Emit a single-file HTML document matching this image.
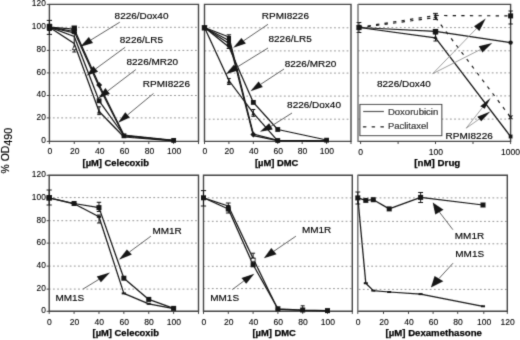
<!DOCTYPE html>
<html><head><meta charset="utf-8"><style>
html,body{margin:0;padding:0;background:#fff;}
body{width:520px;height:340px;overflow:hidden;font-family:"Liberation Sans", sans-serif;}
#w{filter:grayscale(1);width:520px;height:340px;}
svg{display:block;}
</style></head><body><div id="w">
<svg xmlns="http://www.w3.org/2000/svg" width="520" height="340" viewBox="0 0 520 340" font-family='"Liberation Sans", sans-serif'>
<defs><filter id="bl" x="0" y="0" width="520" height="340" filterUnits="userSpaceOnUse"><feConvolveMatrix order="3" kernelMatrix="1 6 1 6 36 6 1 6 1" divisor="64" edgeMode="duplicate"/></filter></defs>
<rect width="520" height="340" fill="#fff"/>
<g filter="url(#bl)">
<line x1="49.4" y1="117.9" x2="198.5" y2="117.9" stroke="#959595" stroke-width="1" stroke-dasharray="1.8 2.38" stroke-dashoffset="0.7"/>
<line x1="49.4" y1="95.5" x2="198.5" y2="95.5" stroke="#959595" stroke-width="1" stroke-dasharray="1.8 2.38" stroke-dashoffset="0.7"/>
<line x1="49.4" y1="72.9" x2="198.5" y2="72.9" stroke="#959595" stroke-width="1" stroke-dasharray="1.8 2.38" stroke-dashoffset="0.7"/>
<line x1="49.4" y1="50.4" x2="198.5" y2="50.4" stroke="#959595" stroke-width="1" stroke-dasharray="1.8 2.38" stroke-dashoffset="0.7"/>
<line x1="49.4" y1="27.3" x2="198.5" y2="27.3" stroke="#959595" stroke-width="1" stroke-dasharray="1.8 2.38" stroke-dashoffset="0.7"/>
<path d="M49.4 141.4 V4.4 H198.5 V141.4 Z" fill="none" stroke="#444" stroke-width="1.4"/>
<line x1="46.8" y1="141.4" x2="49.4" y2="141.4" stroke="#444" stroke-width="1"/>
<line x1="46.8" y1="117.9" x2="49.4" y2="117.9" stroke="#444" stroke-width="1"/>
<line x1="46.8" y1="95.5" x2="49.4" y2="95.5" stroke="#444" stroke-width="1"/>
<line x1="46.8" y1="72.9" x2="49.4" y2="72.9" stroke="#444" stroke-width="1"/>
<line x1="46.8" y1="50.4" x2="49.4" y2="50.4" stroke="#444" stroke-width="1"/>
<line x1="46.8" y1="27.3" x2="49.4" y2="27.3" stroke="#444" stroke-width="1"/>
<line x1="46.8" y1="4.4" x2="49.4" y2="4.4" stroke="#444" stroke-width="1"/>
<line x1="49.4" y1="141.4" x2="49.4" y2="144" stroke="#444" stroke-width="1"/>
<line x1="74.25" y1="141.4" x2="74.25" y2="144" stroke="#444" stroke-width="1"/>
<line x1="99.1" y1="141.4" x2="99.1" y2="144" stroke="#444" stroke-width="1"/>
<line x1="123.95" y1="141.4" x2="123.95" y2="144" stroke="#444" stroke-width="1"/>
<line x1="148.8" y1="141.4" x2="148.8" y2="144" stroke="#444" stroke-width="1"/>
<line x1="173.65" y1="141.4" x2="173.65" y2="144" stroke="#444" stroke-width="1"/>
<line x1="198.5" y1="141.4" x2="198.5" y2="144" stroke="#444" stroke-width="1"/>
<text transform="translate(45.8,143.35) scale(0.93,1.04)" font-size="9" text-anchor="end" fill="#000" stroke="#000" stroke-width="0.1">0</text>
<text transform="translate(45.8,119.85) scale(0.93,1.04)" font-size="9" text-anchor="end" fill="#000" stroke="#000" stroke-width="0.1">20</text>
<text transform="translate(45.8,97.45) scale(0.93,1.04)" font-size="9" text-anchor="end" fill="#000" stroke="#000" stroke-width="0.1">40</text>
<text transform="translate(45.8,74.85) scale(0.93,1.04)" font-size="9" text-anchor="end" fill="#000" stroke="#000" stroke-width="0.1">60</text>
<text transform="translate(45.8,52.35) scale(0.93,1.04)" font-size="9" text-anchor="end" fill="#000" stroke="#000" stroke-width="0.1">80</text>
<text transform="translate(45.8,29.25) scale(0.93,1.04)" font-size="9" text-anchor="end" fill="#000" stroke="#000" stroke-width="0.1">100</text>
<text transform="translate(45.8,6.35) scale(0.93,1.04)" font-size="9" text-anchor="end" fill="#000" stroke="#000" stroke-width="0.1">120</text>
<text transform="translate(50,154.1) scale(0.95,1.03)" font-size="9" text-anchor="middle" fill="#000" stroke="#000" stroke-width="0.1">0</text>
<text transform="translate(74.85,154.1) scale(0.95,1.03)" font-size="9" text-anchor="middle" fill="#000" stroke="#000" stroke-width="0.1">20</text>
<text transform="translate(99.7,154.1) scale(0.95,1.03)" font-size="9" text-anchor="middle" fill="#000" stroke="#000" stroke-width="0.1">40</text>
<text transform="translate(124.55,154.1) scale(0.95,1.03)" font-size="9" text-anchor="middle" fill="#000" stroke="#000" stroke-width="0.1">60</text>
<text transform="translate(149.4,154.1) scale(0.95,1.03)" font-size="9" text-anchor="middle" fill="#000" stroke="#000" stroke-width="0.1">80</text>
<text transform="translate(174.25,154.1) scale(0.95,1.03)" font-size="9" text-anchor="middle" fill="#000" stroke="#000" stroke-width="0.1">100</text>
<text x="115.7" y="165.6" font-size="9.4" text-anchor="middle" font-weight="bold" fill="#000" stroke="#000" stroke-width="0.25">[µM] Celecoxib</text>
<polyline points="49.4,27.2 74.25,33" fill="none" stroke="#151515" stroke-width="1.25" stroke-linejoin="round"/>
<polyline points="49.4,27.2 74.25,29.2 99.1,84.8 123.95,135 173.65,140.4" fill="none" stroke="#151515" stroke-width="1.25" stroke-linejoin="round"/>
<polyline points="49.4,27.2 74.25,31.5 99.1,86.8 123.95,136 173.65,140.6" fill="none" stroke="#151515" stroke-width="1.25" stroke-linejoin="round"/>
<polyline points="49.4,27.2 74.25,36.5 99.1,100.8 123.95,135.5 173.65,140.5" fill="none" stroke="#151515" stroke-width="1.25" stroke-linejoin="round"/>
<polyline points="49.4,27.2 74.25,43.5 99.1,111.5 123.95,137 173.65,140.9" fill="none" stroke="#151515" stroke-width="1.25" stroke-linejoin="round"/>
<path d="M49.4 20.4 V34.4 M46.8 20.4 H52 M46.8 34.4 H52" stroke="#151515" stroke-width="1" fill="none"/>
<rect x="46.8" y="23.8" width="5.4" height="7.1" rx="0.8" fill="#151515"/>
<rect x="71.55" y="25.5" width="5.4" height="5.4" fill="#151515"/>
<rect x="71.65" y="28.9" width="5.2" height="5.2" fill="#151515"/>
<path d="M74.25 33 V52 M72.25 33 H76.25 M72.25 52 H76.25" stroke="#151515" stroke-width="1" fill="none"/>
<polygon points="74.25,45.42 76.12,49.67 72.38,49.67" fill="#fff" stroke="#151515" stroke-width="0.9"/>
<polygon points="99.1,82 102.1,85 99.1,88 96.1,85" fill="#151515"/>
<rect x="96.7" y="98.4" width="4.8" height="4.8" fill="#151515"/>
<path d="M99.1 106.8 V114.6 M97.3 106.8 H100.9 M97.3 114.6 H100.9" stroke="#151515" stroke-width="1" fill="none"/>
<polygon points="99.1,109.32 101.19,113.5 97.01,113.5" fill="#151515"/>
<rect x="121.55" y="133.4" width="4.8" height="4.8" fill="#151515"/>
<rect x="171.25" y="138" width="4.8" height="4.8" fill="#151515"/>
<line x1="90.9" y1="40" x2="119.8" y2="22.2" stroke="#444" stroke-width="0.85"/>
<polygon points="80.44,46.82 88.8,37 93,43" fill="#151515"/>
<line x1="95.7" y1="68.85" x2="125.1" y2="47.3" stroke="#444" stroke-width="0.85"/>
<polygon points="86.8,75.5 93.3,65.9 98.1,71.8" fill="#151515"/>
<line x1="107.65" y1="91.05" x2="135.8" y2="69.6" stroke="#444" stroke-width="0.85"/>
<polygon points="98.32,98.32 105.4,88.1 109.9,94" fill="#151515"/>
<line x1="127.6" y1="114.9" x2="153.5" y2="93.5" stroke="#444" stroke-width="0.85"/>
<polygon points="118.04,122.75 125.3,112.2 129.9,117.6" fill="#151515"/>
<text transform="translate(114.6,18.5) scale(1,0.94)" font-size="10" fill="#000" stroke="#000" stroke-width="0.15">8226/Dox40</text>
<text transform="translate(119.8,42.9) scale(1,0.94)" font-size="10" fill="#000" stroke="#000" stroke-width="0.15">8226/LR5</text>
<text transform="translate(126.5,65.4) scale(1,0.94)" font-size="10" fill="#000" stroke="#000" stroke-width="0.15">8226/MR20</text>
<text transform="translate(142.8,87.4) scale(1,0.94)" font-size="10" fill="#000" stroke="#000" stroke-width="0.15">RPMI8226</text>
<line x1="204.5" y1="119.2" x2="351" y2="119.2" stroke="#959595" stroke-width="1" stroke-dasharray="1.8 2.38" stroke-dashoffset="0"/>
<line x1="204.5" y1="96.1" x2="351" y2="96.1" stroke="#959595" stroke-width="1" stroke-dasharray="1.8 2.38" stroke-dashoffset="0"/>
<line x1="204.5" y1="73.1" x2="351" y2="73.1" stroke="#959595" stroke-width="1" stroke-dasharray="1.8 2.38" stroke-dashoffset="0"/>
<line x1="204.5" y1="50.9" x2="351" y2="50.9" stroke="#959595" stroke-width="1" stroke-dasharray="1.8 2.38" stroke-dashoffset="0"/>
<line x1="204.5" y1="27.8" x2="351" y2="27.8" stroke="#959595" stroke-width="1" stroke-dasharray="1.8 2.38" stroke-dashoffset="0"/>
<path d="M204.5 141.4 V4.4 H351 V141.4 Z" fill="none" stroke="#444" stroke-width="1.4"/>
<line x1="204.5" y1="141.4" x2="204.5" y2="144" stroke="#444" stroke-width="1"/>
<line x1="228.92" y1="141.4" x2="228.92" y2="144" stroke="#444" stroke-width="1"/>
<line x1="253.33" y1="141.4" x2="253.33" y2="144" stroke="#444" stroke-width="1"/>
<line x1="277.75" y1="141.4" x2="277.75" y2="144" stroke="#444" stroke-width="1"/>
<line x1="302.16" y1="141.4" x2="302.16" y2="144" stroke="#444" stroke-width="1"/>
<line x1="326.58" y1="141.4" x2="326.58" y2="144" stroke="#444" stroke-width="1"/>
<line x1="351" y1="141.4" x2="351" y2="144" stroke="#444" stroke-width="1"/>
<text transform="translate(204.9,154.1) scale(0.95,1.03)" font-size="9" text-anchor="middle" fill="#000" stroke="#000" stroke-width="0.1">0</text>
<text transform="translate(229.32,154.1) scale(0.95,1.03)" font-size="9" text-anchor="middle" fill="#000" stroke="#000" stroke-width="0.1">20</text>
<text transform="translate(253.73,154.1) scale(0.95,1.03)" font-size="9" text-anchor="middle" fill="#000" stroke="#000" stroke-width="0.1">40</text>
<text transform="translate(278.15,154.1) scale(0.95,1.03)" font-size="9" text-anchor="middle" fill="#000" stroke="#000" stroke-width="0.1">60</text>
<text transform="translate(302.56,154.1) scale(0.95,1.03)" font-size="9" text-anchor="middle" fill="#000" stroke="#000" stroke-width="0.1">80</text>
<text transform="translate(326.98,154.1) scale(0.95,1.03)" font-size="9" text-anchor="middle" fill="#000" stroke="#000" stroke-width="0.1">100</text>
<text x="276.7" y="165.6" font-size="9.4" text-anchor="middle" font-weight="bold" fill="#000" stroke="#000" stroke-width="0.25">[µM] DMC</text>
<polyline points="204.5,27.5 228.92,43.5" fill="none" stroke="#151515" stroke-width="1.25" stroke-linejoin="round"/>
<polyline points="204.5,27.5 228.92,47 253.33,102.4 277.75,129.5 326.58,140" fill="none" stroke="#151515" stroke-width="1.25" stroke-linejoin="round"/>
<polyline points="204.5,27.5 228.92,80.5 253.33,113.2 277.75,140.8 326.58,141" fill="none" stroke="#151515" stroke-width="1.25" stroke-linejoin="round"/>
<polyline points="204.5,27.5 228.92,37 253.33,134 277.75,140.4 326.58,140.9" fill="none" stroke="#151515" stroke-width="1.25" stroke-linejoin="round"/>
<polyline points="204.5,27.5 228.92,40.5 253.33,135.6 277.75,140.6 326.58,141" fill="none" stroke="#151515" stroke-width="1.25" stroke-linejoin="round"/>
<rect x="201.8" y="25.1" width="5.4" height="5.4" fill="#151515"/>
<path d="M228.92 34.8 V48.5 M226.72 34.8 H231.12 M226.72 48.5 H231.12" stroke="#151515" stroke-width="1" fill="none"/>
<rect x="226.82" y="35.9" width="4.2" height="4.2" fill="#151515"/>
<rect x="226.82" y="39.4" width="4.2" height="4.2" fill="#151515"/>
<rect x="226.92" y="43.5" width="4" height="4" fill="#151515"/>
<polygon points="228.92,79.1 231.12,83.5 226.72,83.5" fill="#151515"/>
<path d="M228.92 78.5 V84.5 M227.12 78.5 H230.72 M227.12 84.5 H230.72" stroke="#151515" stroke-width="1" fill="none"/>
<rect x="250.93" y="100" width="4.8" height="4.8" fill="#151515"/>
<path d="M253.33 109.5 V116.3 M251.33 109.5 H255.33 M251.33 116.3 H255.33" stroke="#151515" stroke-width="1" fill="none"/>
<polygon points="253.33,111.24 255.31,115.2 251.35,115.2" fill="#151515"/>
<polygon points="253.33,131.6 256.33,134.6 253.33,137.6 250.33,134.6" fill="#151515"/>
<rect x="275.35" y="127.1" width="4.8" height="4.8" fill="#151515"/>
<rect x="275.35" y="138.1" width="4.8" height="4.8" fill="#151515"/>
<rect x="324.18" y="137.8" width="4.8" height="4.8" fill="#151515"/>
<line x1="243.65" y1="40.75" x2="268" y2="24.3" stroke="#444" stroke-width="0.85"/>
<polygon points="233.26,47.85 241.4,38 245.9,43.5" fill="#151515"/>
<line x1="236.4" y1="67.55" x2="268" y2="48" stroke="#444" stroke-width="0.85"/>
<polygon points="225.73,74.3 233.9,64.8 238.9,70.3" fill="#151515"/>
<line x1="260.7" y1="84.3" x2="284" y2="69" stroke="#444" stroke-width="0.85"/>
<polygon points="250.46,91.35 258.6,81.5 262.8,87.1" fill="#151515"/>
<line x1="270.95" y1="126.35" x2="292" y2="113" stroke="#444" stroke-width="0.85"/>
<polygon points="259.96,131.87 269.2,123.3 272.7,129.4" fill="#151515"/>
<text transform="translate(261.8,18.5) scale(1,0.94)" font-size="10" fill="#000" stroke="#000" stroke-width="0.15">RPMI8226</text>
<text transform="translate(268.5,42.3) scale(1,0.94)" font-size="10" fill="#000" stroke="#000" stroke-width="0.15">8226/LR5</text>
<text transform="translate(284.7,66.6) scale(1,0.94)" font-size="10" fill="#000" stroke="#000" stroke-width="0.15">8226/MR20</text>
<text transform="translate(287.1,108.2) scale(1,0.94)" font-size="10" fill="#000" stroke="#000" stroke-width="0.15">8226/Dox40</text>
<line x1="358" y1="119.1" x2="510.6" y2="119.1" stroke="#959595" stroke-width="1" stroke-dasharray="1.8 2.38" stroke-dashoffset="0"/>
<line x1="358" y1="95.9" x2="510.6" y2="95.9" stroke="#959595" stroke-width="1" stroke-dasharray="1.8 2.38" stroke-dashoffset="0"/>
<line x1="358" y1="72.9" x2="510.6" y2="72.9" stroke="#959595" stroke-width="1" stroke-dasharray="1.8 2.38" stroke-dashoffset="0"/>
<line x1="358" y1="50.8" x2="510.6" y2="50.8" stroke="#959595" stroke-width="1" stroke-dasharray="1.8 2.38" stroke-dashoffset="0"/>
<line x1="358" y1="27.6" x2="510.6" y2="27.6" stroke="#959595" stroke-width="1" stroke-dasharray="1.8 2.38" stroke-dashoffset="0"/>
<path d="M358 4.4 H510.6 V141.4 H358" fill="none" stroke="#444" stroke-width="1.4"/>
<line x1="358" y1="3.9" x2="358" y2="141.9" stroke="#777" stroke-width="1.5"/>
<line x1="360.6" y1="141.4" x2="360.6" y2="144" stroke="#444" stroke-width="1"/>
<line x1="398.1" y1="141.4" x2="398.1" y2="144" stroke="#444" stroke-width="1"/>
<line x1="435.5" y1="141.4" x2="435.5" y2="144" stroke="#444" stroke-width="1"/>
<line x1="473" y1="141.4" x2="473" y2="144" stroke="#444" stroke-width="1"/>
<line x1="510.6" y1="141.4" x2="510.6" y2="144" stroke="#444" stroke-width="1"/>
<text transform="translate(360.6,155) scale(0.95,1.03)" font-size="9" text-anchor="middle" fill="#000" stroke="#000" stroke-width="0.1">0</text>
<text transform="translate(436,155) scale(0.95,1.03)" font-size="9" text-anchor="middle" fill="#000" stroke="#000" stroke-width="0.1">100</text>
<text transform="translate(510.6,155) scale(0.95,1.03)" font-size="9" text-anchor="middle" fill="#000" stroke="#000" stroke-width="0.1">1000</text>
<text x="437.3" y="165.6" font-size="9.75" text-anchor="middle" font-weight="bold" fill="#000" stroke="#000" stroke-width="0.25">[nM] Drug</text>
<polyline points="359,27.5 435.5,31.3 510.6,42.6" fill="none" stroke="#151515" stroke-width="1.25" stroke-linejoin="round"/>
<polyline points="359,27.5 435.5,37.8 510.6,136.5" fill="none" stroke="#151515" stroke-width="1.25" stroke-linejoin="round"/>
<polyline points="359,27.3 435.5,15.5 510.6,15.9" fill="none" stroke="#151515" stroke-width="1.15" stroke-linejoin="round" stroke-dasharray="3.3 5.3"/>
<polyline points="359,27.7 435.5,17.6 510.6,117.3" fill="none" stroke="#151515" stroke-width="1.15" stroke-linejoin="round" stroke-dasharray="3.3 5.3"/>
<path d="M359 22.5 V32.5 M356.6 22.5 H361.4 M356.6 32.5 H361.4" stroke="#151515" stroke-width="1" fill="none"/>
<rect x="356.4" y="24.9" width="5.2" height="5.2" fill="#151515"/>
<path d="M435.5 13.4 V19.4 M433.1 13.4 H437.9 M433.1 19.4 H437.9" stroke="#151515" stroke-width="1" fill="none"/>
<path d="M433.8 14.7 L437.2 18.1 M437.2 14.7 L433.8 18.1" stroke="#151515" stroke-width="1.1"/>
<rect x="432.8" y="28.9" width="5.4" height="5.4" fill="#151515"/>
<path d="M435.5 34 V41 M433.5 34 H437.5 M433.5 41 H437.5" stroke="#151515" stroke-width="1" fill="none"/>
<polygon points="435.5,34.92 437.59,39.1 433.41,39.1" fill="#151515"/>
<path d="M510.6 11 V24 M508.4 11 H512.8 M508.4 24 H512.8" stroke="#151515" stroke-width="1" fill="none"/>
<rect x="508.1" y="13.4" width="5" height="5" fill="#151515"/>
<circle cx="510.6" cy="42.6" r="2.2" fill="#151515"/>
<path d="M508.7 115.4 L512.5 119.2 M512.5 115.4 L508.7 119.2" stroke="#151515" stroke-width="1.1"/>
<rect x="508.7" y="134.6" width="3.8" height="3.8" fill="#151515"/>
<rect x="359.9" y="104.5" width="81.9" height="31.1" fill="#fff" stroke="#444" stroke-width="1.1"/>
<line x1="363.2" y1="111.5" x2="383.9" y2="111.5" stroke="#151515" stroke-width="1.2"/>
<line x1="362.9" y1="126.8" x2="384.2" y2="126.8" stroke="#151515" stroke-width="1.5" stroke-dasharray="3.4 5.4"/>
<text transform="translate(387.9,114.5) scale(1,0.94)" font-size="9.55" fill="#000" stroke="#000" stroke-width="0.15">Doxorubicin</text>
<text transform="translate(387.9,128.6) scale(1,0.94)" font-size="9.45" fill="#000" stroke="#000" stroke-width="0.15">Paclitaxel</text>
<line x1="432.7" y1="73.7" x2="477" y2="28" stroke="#888" stroke-width="0.8"/>
<line x1="432.7" y1="73.7" x2="480.5" y2="49.5" stroke="#888" stroke-width="0.8"/>
<polygon points="485.7,18.58 474.1,26.2 479.4,30.9" fill="#151515"/>
<polygon points="492.22,43.08 478.8,46.2 482.4,52.6" fill="#151515"/>
<text transform="translate(377,86.9) scale(1,0.94)" font-size="10" fill="#000" stroke="#000" stroke-width="0.15">8226/Dox40</text>
<line x1="466.2" y1="128.2" x2="482.5" y2="107.5" stroke="#888" stroke-width="0.8"/>
<line x1="466.2" y1="128.2" x2="479.3" y2="119" stroke="#888" stroke-width="0.8"/>
<polygon points="490.57,97.95 480.3,106.2 484.7,108.8" fill="#151515"/>
<polygon points="490.34,111.46 477.3,116.7 481.2,121.2" fill="#151515"/>
<text transform="translate(445.6,138.9) scale(1,0.94)" font-size="10" fill="#000" stroke="#000" stroke-width="0.15">RPMI8226</text>
<line x1="49.2" y1="289.1" x2="198.5" y2="289.1" stroke="#959595" stroke-width="1" stroke-dasharray="1.8 2.38" stroke-dashoffset="0.4"/>
<line x1="49.2" y1="266.1" x2="198.5" y2="266.1" stroke="#959595" stroke-width="1" stroke-dasharray="1.8 2.38" stroke-dashoffset="0.4"/>
<line x1="49.2" y1="243.1" x2="198.5" y2="243.1" stroke="#959595" stroke-width="1" stroke-dasharray="1.8 2.38" stroke-dashoffset="0.4"/>
<line x1="49.2" y1="220.7" x2="198.5" y2="220.7" stroke="#959595" stroke-width="1" stroke-dasharray="1.8 2.38" stroke-dashoffset="0.4"/>
<line x1="49.2" y1="197.6" x2="198.5" y2="197.6" stroke="#959595" stroke-width="1" stroke-dasharray="1.8 2.38" stroke-dashoffset="0.4"/>
<path d="M49.2 311.3 V175.3 H198.5 V311.3 Z" fill="none" stroke="#444" stroke-width="1.4"/>
<line x1="46.6" y1="311.3" x2="49.2" y2="311.3" stroke="#444" stroke-width="1"/>
<line x1="46.6" y1="289.1" x2="49.2" y2="289.1" stroke="#444" stroke-width="1"/>
<line x1="46.6" y1="266.1" x2="49.2" y2="266.1" stroke="#444" stroke-width="1"/>
<line x1="46.6" y1="243.1" x2="49.2" y2="243.1" stroke="#444" stroke-width="1"/>
<line x1="46.6" y1="220.7" x2="49.2" y2="220.7" stroke="#444" stroke-width="1"/>
<line x1="46.6" y1="197.6" x2="49.2" y2="197.6" stroke="#444" stroke-width="1"/>
<line x1="46.6" y1="175.3" x2="49.2" y2="175.3" stroke="#444" stroke-width="1"/>
<line x1="49.2" y1="311.3" x2="49.2" y2="313.9" stroke="#444" stroke-width="1"/>
<line x1="74.08" y1="311.3" x2="74.08" y2="313.9" stroke="#444" stroke-width="1"/>
<line x1="98.97" y1="311.3" x2="98.97" y2="313.9" stroke="#444" stroke-width="1"/>
<line x1="123.85" y1="311.3" x2="123.85" y2="313.9" stroke="#444" stroke-width="1"/>
<line x1="148.74" y1="311.3" x2="148.74" y2="313.9" stroke="#444" stroke-width="1"/>
<line x1="173.62" y1="311.3" x2="173.62" y2="313.9" stroke="#444" stroke-width="1"/>
<line x1="198.5" y1="311.3" x2="198.5" y2="313.9" stroke="#444" stroke-width="1"/>
<text transform="translate(45.8,313.25) scale(0.93,1.04)" font-size="9" text-anchor="end" fill="#000" stroke="#000" stroke-width="0.1">0</text>
<text transform="translate(45.8,291.05) scale(0.93,1.04)" font-size="9" text-anchor="end" fill="#000" stroke="#000" stroke-width="0.1">20</text>
<text transform="translate(45.8,268.05) scale(0.93,1.04)" font-size="9" text-anchor="end" fill="#000" stroke="#000" stroke-width="0.1">40</text>
<text transform="translate(45.8,245.05) scale(0.93,1.04)" font-size="9" text-anchor="end" fill="#000" stroke="#000" stroke-width="0.1">60</text>
<text transform="translate(45.8,222.65) scale(0.93,1.04)" font-size="9" text-anchor="end" fill="#000" stroke="#000" stroke-width="0.1">80</text>
<text transform="translate(45.8,199.55) scale(0.93,1.04)" font-size="9" text-anchor="end" fill="#000" stroke="#000" stroke-width="0.1">100</text>
<text transform="translate(45.8,177.25) scale(0.93,1.04)" font-size="9" text-anchor="end" fill="#000" stroke="#000" stroke-width="0.1">120</text>
<text transform="translate(49.5,325.4) scale(0.95,1.03)" font-size="9" text-anchor="middle" fill="#000" stroke="#000" stroke-width="0.1">0</text>
<text transform="translate(74.38,325.4) scale(0.95,1.03)" font-size="9" text-anchor="middle" fill="#000" stroke="#000" stroke-width="0.1">20</text>
<text transform="translate(99.27,325.4) scale(0.95,1.03)" font-size="9" text-anchor="middle" fill="#000" stroke="#000" stroke-width="0.1">40</text>
<text transform="translate(124.15,325.4) scale(0.95,1.03)" font-size="9" text-anchor="middle" fill="#000" stroke="#000" stroke-width="0.1">60</text>
<text transform="translate(149.04,325.4) scale(0.95,1.03)" font-size="9" text-anchor="middle" fill="#000" stroke="#000" stroke-width="0.1">80</text>
<text transform="translate(173.92,325.4) scale(0.95,1.03)" font-size="9" text-anchor="middle" fill="#000" stroke="#000" stroke-width="0.1">100</text>
<text x="125.7" y="335.9" font-size="9.4" text-anchor="middle" font-weight="bold" fill="#000" stroke="#000" stroke-width="0.25">[µM] Celecoxib</text>
<polyline points="49.2,197.8 74.08,203.5 98.97,207.6 123.85,278.2 148.74,299.4 173.62,308.4" fill="none" stroke="#151515" stroke-width="1.25" stroke-linejoin="round"/>
<polyline points="49.2,197.8 74.08,203.8 98.97,216.8 123.85,293.4 148.74,303.8 173.62,308.6" fill="none" stroke="#151515" stroke-width="1.25" stroke-linejoin="round"/>
<path d="M49.2 190 V205 M46.6 190 H51.8 M46.6 205 H51.8" stroke="#151515" stroke-width="1" fill="none"/>
<path d="M98.97 202.3 V211.5 M96.77 202.3 H101.17 M96.77 211.5 H101.17" stroke="#151515" stroke-width="1" fill="none"/>
<path d="M98.97 215 V223 M96.97 215 H100.97 M96.97 223 H100.97" stroke="#151515" stroke-width="1" fill="none"/>
<rect x="46.7" y="195.3" width="5" height="5" fill="#151515"/>
<rect x="71.58" y="201" width="5" height="5" fill="#151515"/>
<rect x="96.47" y="205.1" width="5" height="5" fill="#151515"/>
<rect x="121.35" y="275.7" width="5" height="5" fill="#151515"/>
<rect x="146.24" y="296.9" width="5" height="5" fill="#151515"/>
<rect x="171.12" y="305.9" width="5" height="5" fill="#151515"/>
<rect x="47.1" y="196.8" width="4.2" height="2" fill="#151515"/>
<rect x="71.98" y="202.8" width="4.2" height="2" fill="#151515"/>
<rect x="96.87" y="215.8" width="4.2" height="2" fill="#151515"/>
<rect x="121.75" y="292.4" width="4.2" height="2" fill="#151515"/>
<rect x="146.64" y="302.8" width="4.2" height="2" fill="#151515"/>
<rect x="171.52" y="307.6" width="4.2" height="2" fill="#151515"/>
<rect x="46.5" y="195.1" width="5.4" height="5.4" fill="#151515"/>
<line x1="129.4" y1="252" x2="150.9" y2="236.2" stroke="#444" stroke-width="0.85"/>
<polygon points="118.89,259.69 126.9,249.4 131.9,254.6" fill="#151515"/>
<line x1="98.85" y1="279.4" x2="83.1" y2="289" stroke="#444" stroke-width="0.85"/>
<polygon points="109.98,272.51 96.8,276.6 100.9,282.2" fill="#151515"/>
<text transform="translate(152.4,233.5) scale(1,0.94)" font-size="10" fill="#000" stroke="#000" stroke-width="0.15">MM1R</text>
<text transform="translate(55.4,301.2) scale(1,0.94)" font-size="10" fill="#000" stroke="#000" stroke-width="0.15">MM1S</text>
<line x1="203.5" y1="288.6" x2="352.3" y2="288.6" stroke="#959595" stroke-width="1" stroke-dasharray="1.8 2.38" stroke-dashoffset="0"/>
<line x1="203.5" y1="266.3" x2="352.3" y2="266.3" stroke="#959595" stroke-width="1" stroke-dasharray="1.8 2.38" stroke-dashoffset="0"/>
<line x1="203.5" y1="243.2" x2="352.3" y2="243.2" stroke="#959595" stroke-width="1" stroke-dasharray="1.8 2.38" stroke-dashoffset="0"/>
<line x1="203.5" y1="221.3" x2="352.3" y2="221.3" stroke="#959595" stroke-width="1" stroke-dasharray="1.8 2.38" stroke-dashoffset="0"/>
<line x1="203.5" y1="197.9" x2="352.3" y2="197.9" stroke="#959595" stroke-width="1" stroke-dasharray="1.8 2.38" stroke-dashoffset="0"/>
<path d="M203.5 311.3 V175.3 H352.3 V311.3 Z" fill="none" stroke="#444" stroke-width="1.4"/>
<line x1="203.5" y1="311.3" x2="203.5" y2="313.9" stroke="#444" stroke-width="1"/>
<line x1="228.3" y1="311.3" x2="228.3" y2="313.9" stroke="#444" stroke-width="1"/>
<line x1="253.1" y1="311.3" x2="253.1" y2="313.9" stroke="#444" stroke-width="1"/>
<line x1="277.9" y1="311.3" x2="277.9" y2="313.9" stroke="#444" stroke-width="1"/>
<line x1="302.7" y1="311.3" x2="302.7" y2="313.9" stroke="#444" stroke-width="1"/>
<line x1="327.5" y1="311.3" x2="327.5" y2="313.9" stroke="#444" stroke-width="1"/>
<line x1="352.3" y1="311.3" x2="352.3" y2="313.9" stroke="#444" stroke-width="1"/>
<text transform="translate(203.9,325.4) scale(0.95,1.03)" font-size="9" text-anchor="middle" fill="#000" stroke="#000" stroke-width="0.1">0</text>
<text transform="translate(228.7,325.4) scale(0.95,1.03)" font-size="9" text-anchor="middle" fill="#000" stroke="#000" stroke-width="0.1">20</text>
<text transform="translate(253.5,325.4) scale(0.95,1.03)" font-size="9" text-anchor="middle" fill="#000" stroke="#000" stroke-width="0.1">40</text>
<text transform="translate(278.3,325.4) scale(0.95,1.03)" font-size="9" text-anchor="middle" fill="#000" stroke="#000" stroke-width="0.1">60</text>
<text transform="translate(303.1,325.4) scale(0.95,1.03)" font-size="9" text-anchor="middle" fill="#000" stroke="#000" stroke-width="0.1">80</text>
<text transform="translate(327.9,325.4) scale(0.95,1.03)" font-size="9" text-anchor="middle" fill="#000" stroke="#000" stroke-width="0.1">100</text>
<text x="274.2" y="335.9" font-size="9.4" text-anchor="middle" font-weight="bold" fill="#000" stroke="#000" stroke-width="0.25">[µM] DMC</text>
<polyline points="203.5,197.8 228.3,209 253.1,264.8 277.9,308.8 302.7,310 327.5,310.6" fill="none" stroke="#151515" stroke-width="1.25" stroke-linejoin="round"/>
<polyline points="203.5,197.8 228.3,206 253.1,258.6 277.9,309.4 302.7,310.4 327.5,310.8" fill="none" stroke="#151515" stroke-width="1.25" stroke-linejoin="round"/>
<path d="M203.5 190.6 V206 M200.9 190.6 H206.1 M200.9 206 H206.1" stroke="#151515" stroke-width="1" fill="none"/>
<path d="M228.3 203 V213 M225.9 203 H230.7 M225.9 213 H230.7" stroke="#151515" stroke-width="1" fill="none"/>
<path d="M253.1 253.2 V262 M251.1 253.2 H255.1 M251.1 262 H255.1" stroke="#151515" stroke-width="1" fill="none"/>
<path d="M302.7 305.8 V311 M300.7 305.8 H304.7 M300.7 311 H304.7" stroke="#151515" stroke-width="1" fill="none"/>
<rect x="201" y="195.3" width="5" height="5" fill="#151515"/>
<rect x="225.8" y="206.5" width="5" height="5" fill="#151515"/>
<rect x="250.6" y="262.3" width="5" height="5" fill="#151515"/>
<rect x="275.4" y="306.3" width="5" height="5" fill="#151515"/>
<rect x="300.2" y="307.5" width="5" height="5" fill="#151515"/>
<rect x="325" y="308.1" width="5" height="5" fill="#151515"/>
<rect x="201.4" y="196.8" width="4.2" height="2" fill="#151515"/>
<rect x="226.2" y="205" width="4.2" height="2" fill="#151515"/>
<rect x="251" y="257.6" width="4.2" height="2" fill="#151515"/>
<rect x="275.8" y="308.4" width="4.2" height="2" fill="#151515"/>
<rect x="300.6" y="309.4" width="4.2" height="2" fill="#151515"/>
<rect x="325.4" y="309.8" width="4.2" height="2" fill="#151515"/>
<rect x="251.1" y="258.3" width="4" height="3" fill="#fff" stroke="#151515" stroke-width="0.9"/>
<line x1="273.9" y1="251.2" x2="295.9" y2="236.2" stroke="#444" stroke-width="0.85"/>
<polygon points="263.87,258.26 271.3,248.1 276.5,254.3" fill="#151515"/>
<line x1="243.85" y1="280.95" x2="232.3" y2="289.6" stroke="#444" stroke-width="0.85"/>
<polygon points="254.34,273.75 241.5,278.1 246.2,283.8" fill="#151515"/>
<text transform="translate(301.9,232.7) scale(1,0.94)" font-size="10" fill="#000" stroke="#000" stroke-width="0.15">MM1R</text>
<text transform="translate(210.2,301.3) scale(1,0.94)" font-size="10" fill="#000" stroke="#000" stroke-width="0.15">MM1S</text>
<line x1="357.8" y1="289.4" x2="507.3" y2="289.4" stroke="#959595" stroke-width="1" stroke-dasharray="1.8 2.38" stroke-dashoffset="-0.87"/>
<line x1="357.8" y1="266.2" x2="507.3" y2="266.2" stroke="#959595" stroke-width="1" stroke-dasharray="1.8 2.38" stroke-dashoffset="-0.87"/>
<line x1="357.8" y1="243.8" x2="507.3" y2="243.8" stroke="#959595" stroke-width="1" stroke-dasharray="1.8 2.38" stroke-dashoffset="-0.87"/>
<line x1="357.8" y1="221.4" x2="507.3" y2="221.4" stroke="#959595" stroke-width="1" stroke-dasharray="1.8 2.38" stroke-dashoffset="-0.87"/>
<line x1="357.8" y1="197.9" x2="507.3" y2="197.9" stroke="#959595" stroke-width="1" stroke-dasharray="1.8 2.38" stroke-dashoffset="-0.87"/>
<path d="M357.8 175.3 H507.3 V311.3 H357.8" fill="none" stroke="#444" stroke-width="1.4"/>
<line x1="357.8" y1="174.8" x2="357.8" y2="311.8" stroke="#777" stroke-width="1.5"/>
<line x1="357.8" y1="311.3" x2="357.8" y2="313.9" stroke="#444" stroke-width="1"/>
<line x1="383.5" y1="311.3" x2="383.5" y2="313.9" stroke="#444" stroke-width="1"/>
<line x1="408.5" y1="311.3" x2="408.5" y2="313.9" stroke="#444" stroke-width="1"/>
<line x1="433.1" y1="311.3" x2="433.1" y2="313.9" stroke="#444" stroke-width="1"/>
<line x1="457.7" y1="311.3" x2="457.7" y2="313.9" stroke="#444" stroke-width="1"/>
<line x1="483.8" y1="311.3" x2="483.8" y2="313.9" stroke="#444" stroke-width="1"/>
<line x1="507.3" y1="311.3" x2="507.3" y2="313.9" stroke="#444" stroke-width="1"/>
<text transform="translate(358.2,325.4) scale(0.95,1.03)" font-size="9" text-anchor="middle" fill="#000" stroke="#000" stroke-width="0.1">0</text>
<text transform="translate(383.9,325.4) scale(0.95,1.03)" font-size="9" text-anchor="middle" fill="#000" stroke="#000" stroke-width="0.1">20</text>
<text transform="translate(408.9,325.4) scale(0.95,1.03)" font-size="9" text-anchor="middle" fill="#000" stroke="#000" stroke-width="0.1">40</text>
<text transform="translate(433.5,325.4) scale(0.95,1.03)" font-size="9" text-anchor="middle" fill="#000" stroke="#000" stroke-width="0.1">60</text>
<text transform="translate(458.1,325.4) scale(0.95,1.03)" font-size="9" text-anchor="middle" fill="#000" stroke="#000" stroke-width="0.1">80</text>
<text transform="translate(484.2,325.4) scale(0.95,1.03)" font-size="9" text-anchor="middle" fill="#000" stroke="#000" stroke-width="0.1">100</text>
<text transform="translate(507.7,325.4) scale(0.95,1.03)" font-size="9" text-anchor="middle" fill="#000" stroke="#000" stroke-width="0.1">120</text>
<text x="433.7" y="335.9" font-size="9.62" text-anchor="middle" font-weight="bold" fill="#000" stroke="#000" stroke-width="0.25">[µM] Dexamethasone</text>
<polyline points="357.8,197.9 365.8,200.4 373.3,199.7 389.2,208.9 420.6,197.4 483,205" fill="none" stroke="#151515" stroke-width="1.25" stroke-linejoin="round"/>
<polyline points="357.8,197.9 365.8,283.2 373.3,290.6 389.2,292 420.6,294.1 483,306.3" fill="none" stroke="#151515" stroke-width="1.25" stroke-linejoin="round"/>
<path d="M357.8 192 V204 M355.4 192 H360.2 M355.4 204 H360.2" stroke="#151515" stroke-width="1" fill="none"/>
<path d="M420.6 192.5 V202.5 M418.2 192.5 H423 M418.2 202.5 H423" stroke="#151515" stroke-width="1" fill="none"/>
<rect x="355.3" y="195.4" width="5" height="5" fill="#151515"/>
<rect x="363.3" y="197.9" width="5" height="5" fill="#151515"/>
<rect x="370.8" y="197.2" width="5" height="5" fill="#151515"/>
<rect x="386.7" y="206.4" width="5" height="5" fill="#151515"/>
<rect x="418.1" y="194.9" width="5" height="5" fill="#151515"/>
<rect x="480.5" y="202.5" width="5" height="5" fill="#151515"/>
<rect x="363.8" y="282.2" width="4" height="2" fill="#151515"/>
<rect x="371.3" y="289.6" width="4" height="2" fill="#151515"/>
<rect x="387.2" y="291" width="4" height="2" fill="#151515"/>
<rect x="418.6" y="293.1" width="4" height="2" fill="#151515"/>
<rect x="481" y="305.3" width="4" height="2" fill="#151515"/>
<line x1="439.4" y1="212.05" x2="452.9" y2="229.7" stroke="#444" stroke-width="0.85"/>
<polygon points="432.74,202.57 435.3,214.4 443.5,209.7" fill="#151515"/>
<line x1="438.95" y1="278.55" x2="453" y2="263.2" stroke="#444" stroke-width="0.85"/>
<polygon points="430.9,287.62 434.6,275.9 443.3,281.2" fill="#151515"/>
<text transform="translate(454.8,239.1) scale(1,0.94)" font-size="10" fill="#000" stroke="#000" stroke-width="0.15">MM1R</text>
<text transform="translate(455.3,257.1) scale(1,0.94)" font-size="10" fill="#000" stroke="#000" stroke-width="0.15">MM1S</text>
<text transform="translate(9.2,173.5) rotate(-90)" font-size="10.4" fill="#000" stroke="#000" stroke-width="0.15">% OD<tspan dy="2.4" font-size="10.8">490</tspan></text>
</g></svg>
</div></body></html>
